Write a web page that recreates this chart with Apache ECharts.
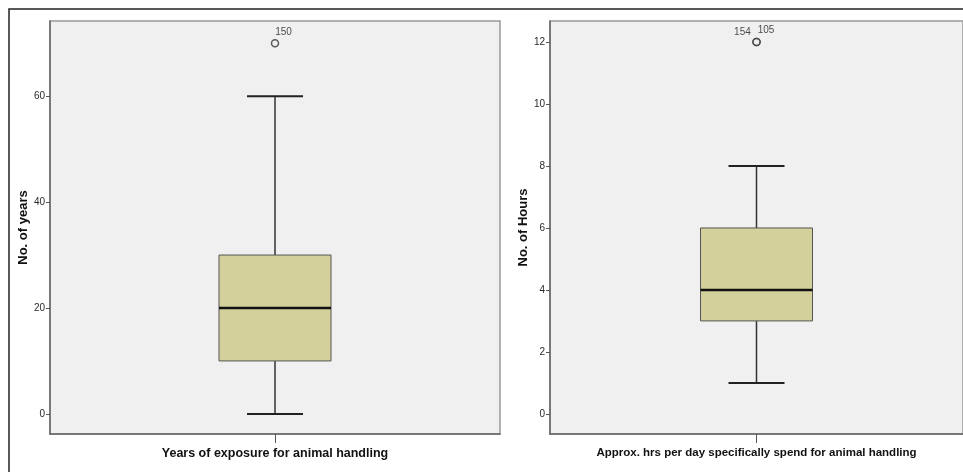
<!DOCTYPE html>
<html>
<head>
<meta charset="utf-8">
<script src="https://cdn.jsdelivr.net/npm/echarts@6/dist/echarts.min.js"></script>
<style>
  html, body { margin: 0; padding: 0; background: #ffffff; }
  #chart { width: 963px; height: 472px; }
</style>
</head>
<body>
<div id="chart"></div>
<script>
// Panel 1: years of exposure
const yearsCategory = ['Years of exposure for animal handling'];
const yearsStats = [0, 10, 20, 30, 60];          // min, Q1, median, Q3, max
const yearsOutlierIds = ['150'];
const yearsOutlierValues = [70];
const yearsTicks = [0, 20, 40, 60];

// Panel 2: hours per day
const hoursCategory = ['Approx. hrs per day specifically spend for animal handling'];
const hoursStats = [1, 3, 4, 6, 8];
const hoursOutlierIds = ['154', '105'];
const hoursOutlierValues = [12, 12];
const hoursTicks = [0, 2, 4, 6, 8, 10, 12];

const BOX_FILL = '#d4d09b';
const PLOT_BG = '#f0f0f0';
const NARROW = "'Liberation Sans Narrow', 'Arial Narrow', 'Liberation Sans', Arial, sans-serif";
const BOLD = "'Liberation Sans', Arial, sans-serif";

// Box and whiskers drawn through the axis scales
function renderBox(params, api) {
  const x = api.value(0);
  const lo = api.coord([x, api.value(1)]);
  const q1 = api.coord([x, api.value(2)]);
  const md = api.coord([x, api.value(3)]);
  const q3 = api.coord([x, api.value(4)]);
  const hi = api.coord([x, api.value(5)]);
  const cx = lo[0];
  const bw = 112, cw = 56;
  const lineStyle = { stroke: '#333', lineWidth: 1.5 };
  return {
    type: 'group',
    children: [
      { type: 'line', shape: { x1: cx, y1: hi[1], x2: cx, y2: q3[1] }, style: lineStyle },
      { type: 'line', shape: { x1: cx, y1: q1[1], x2: cx, y2: lo[1] }, style: lineStyle },
      { type: 'line', shape: { x1: cx - cw / 2, y1: hi[1], x2: cx + cw / 2, y2: hi[1] }, style: { stroke: '#222', lineWidth: 2 } },
      { type: 'line', shape: { x1: cx - cw / 2, y1: lo[1], x2: cx + cw / 2, y2: lo[1] }, style: { stroke: '#222', lineWidth: 2 } },
      { type: 'rect', shape: { x: cx - bw / 2, y: q3[1], width: bw, height: q1[1] - q3[1] },
        style: { fill: BOX_FILL, stroke: '#555', lineWidth: 1 } },
      { type: 'line', shape: { x1: cx - bw / 2, y1: md[1], x2: cx + bw / 2, y2: md[1] }, style: { stroke: '#111', lineWidth: 2.5 } }
    ]
  };
}

function outlierData(ids, values, labelPositions) {
  return values.map((v, i) => ({
    name: ids[i],
    value: [0, v],
    label: labelPositions[i]
  }));
}

function yAxis(gridIndex, name, min, max, ticks, nameGap) {
  return {
    type: 'value', gridIndex, min, max, name,
    nameLocation: 'middle', nameGap,
    nameTextStyle: { fontFamily: BOLD, fontWeight: 'bold', fontSize: 13, color: '#111' },
    splitLine: { show: false },
    axisLine: { show: true, onZero: false, lineStyle: { color: '#666', width: 1.5 } },
    axisTick: { show: true, length: 4, customValues: ticks, lineStyle: { color: '#555' } },
    axisLabel: { customValues: ticks, fontFamily: NARROW, fontSize: 10, color: '#2a2a2a', margin: 5 }
  };
}

function xAxis(gridIndex, data, fontSize) {
  return {
    type: 'category', gridIndex, data,
    axisLine: { show: true, onZero: false, lineStyle: { color: '#666', width: 1.5 } },
    axisTick: { show: true, alignWithLabel: true, length: 9, lineStyle: { color: '#555' } },
    axisLabel: { fontFamily: BOLD, fontWeight: 'bold', fontSize, color: '#111', margin: 13 }
  };
}

const circleStyle = { color: PLOT_BG, borderColor: '#333', borderWidth: 1.5 };
const lblBase = { show: true, formatter: '{b}', fontFamily: NARROW, fontSize: 10, color: '#222' };

const option = {
  animation: false,
  backgroundColor: '#ffffff',
  grid: [
    { left: 50, top: 21, width: 450, height: 413, show: true, backgroundColor: PLOT_BG, borderColor: '#999', borderWidth: 1.5 },
    { left: 550, top: 21, width: 415, height: 413, show: true, backgroundColor: PLOT_BG, borderColor: '#999', borderWidth: 1.5 }
  ],
  xAxis: [xAxis(0, yearsCategory, 12.5), xAxis(1, hoursCategory, 11.5)],
  yAxis: [
    yAxis(0, 'No. of years', -3.8, 74.2, yearsTicks, 19),
    yAxis(1, 'No. of Hours', -0.65, 12.68, hoursTicks, 15)
  ],
  graphic: [
    { type: 'rect', silent: true, z: 100,
      shape: { x: 9, y: 9, width: 1000, height: 1000 },
      style: { fill: 'none', stroke: '#222', lineWidth: 1.5 } }
  ],
  series: [
    { type: 'custom', xAxisIndex: 0, yAxisIndex: 0, renderItem: renderBox, clip: false,
      encode: { x: 0, y: [1, 2, 3, 4, 5] }, data: [[0].concat(yearsStats)] },
    { type: 'custom', xAxisIndex: 1, yAxisIndex: 1, renderItem: renderBox, clip: false,
      encode: { x: 0, y: [1, 2, 3, 4, 5] }, data: [[0].concat(hoursStats)] },
    { type: 'scatter', xAxisIndex: 0, yAxisIndex: 0, symbol: 'circle', symbolSize: 7,
      itemStyle: circleStyle,
      data: outlierData(yearsOutlierIds, yearsOutlierValues, [
        Object.assign({}, lblBase, { position: [4.5, -1.5], align: 'left', verticalAlign: 'bottom' })
      ]) },
    { type: 'scatter', xAxisIndex: 1, yAxisIndex: 1, symbol: 'circle', symbolSize: 7,
      itemStyle: circleStyle,
      data: outlierData(hoursOutlierIds, hoursOutlierValues, [
        Object.assign({}, lblBase, { position: [-1.5, -0.5], align: 'right', verticalAlign: 'bottom' }),
        Object.assign({}, lblBase, { position: [5.5, -2.5], align: 'left', verticalAlign: 'bottom' })
      ]) }
  ]
};

const chart = echarts.init(document.getElementById('chart'), null, { renderer: 'canvas' });
chart.setOption(option);
</script>
</body>
</html>
